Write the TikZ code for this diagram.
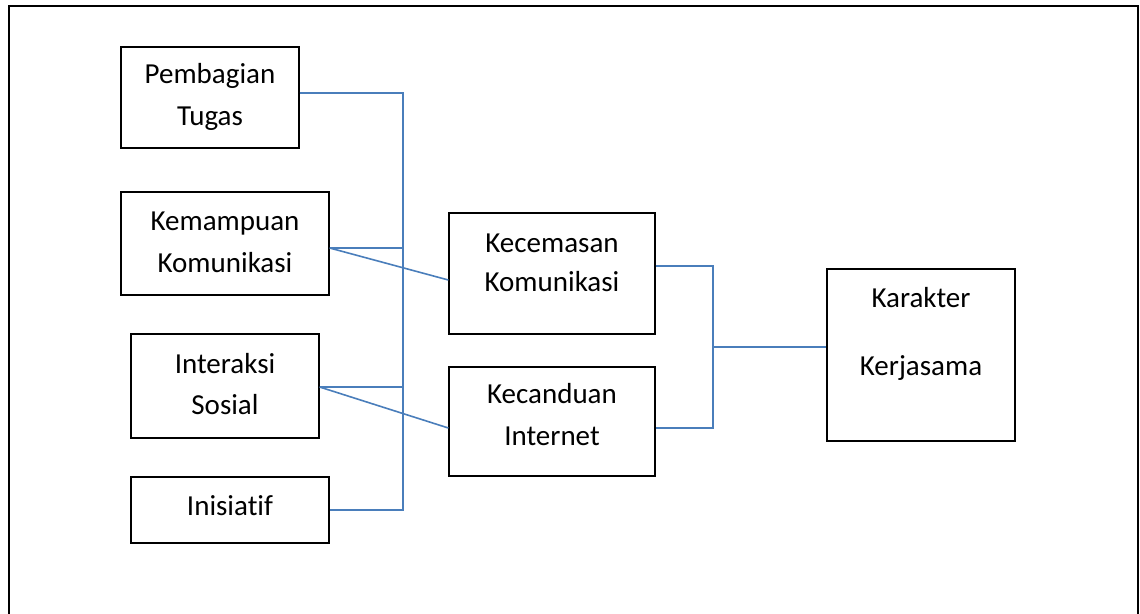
\documentclass[tikz,border=0pt]{standalone}
\usepackage{fontspec}
\setmainfont{Carlito}[Ligatures=NoCommon]
\definecolor{linkblue}{HTML}{4A7EBB}
\begin{document}
\begin{tikzpicture}[x=1pt,y=-1pt,
  box/.style={draw=black,line width=1.3pt,inner sep=0pt},
  lbl/.style={anchor=base,inner sep=0pt,font=\fontsize{29pt}{35pt}\selectfont},
  link/.style={draw=linkblue,line width=1.6pt}]
\useasboundingbox (0,0) rectangle (1140,613);
\draw[line width=1.3pt] (9,630) -- (9,6) -- (1138,6) -- (1138,630);
% boxes
\node[box,minimum width=178pt,minimum height=101pt] (pt) at (210,97.5) {};
\node[box,minimum width=208pt,minimum height=103pt] (km) at (225,243.5) {};
\node[box,minimum width=188pt,minimum height=104pt] (is) at (225,386) {};
\node[box,minimum width=198pt,minimum height=66pt] (in) at (230,510) {};
\node[box,minimum width=206pt,minimum height=121pt] (kc) at (552,273.5) {};
\node[box,minimum width=206pt,minimum height=109pt] (ki) at (552,421.5) {};
\node[box,minimum width=188pt,minimum height=172pt] (kk) at (921,355) {};
% labels
\node[lbl] (pt1) at (210,83) {Pembagian};
\node[lbl] (pt2) at (210,125) {Tugas};
\node[lbl] (km1) at (225,230) {Kemampuan};
\node[lbl] (km2) at (225,272) {Komunikasi};
\node[lbl] (is1) at (225,373) {Interaksi};
\node[lbl] (is2) at (225,414) {Sosial};
\node[lbl] (in1) at (230,515) {Inisiatif};
\node[lbl] (kc1) at (552,252) {Kecemasan};
\node[lbl] (kc2) at (552,291) {Komunikasi};
\node[lbl] (ki1) at (552,403) {Kecanduan};
\node[lbl] (ki2) at (552,445) {Internet};
\node[lbl] (kk1) at (921,307) {Karakter};
\node[lbl] (kk2) at (921,375) {Kerjasama};
% bus coordinates
\coordinate (bt) at (403,93);
\coordinate (bb) at (403,510);
\coordinate (rt) at (713,266);
\coordinate (rb) at (713,428);
\coordinate (rm) at (713,347);
% left connectors
\draw[link] ([yshift=4.5pt]pt.east) -- (bt) -- (bb) -- (in.east);
\draw[link] ([yshift=-4.5pt]km.east) -- ([yshift=-4.5pt]km.east -| bt);
\draw[link] ([yshift=-1pt]is.east) -- ([yshift=-1pt]is.east -| bt);
\draw[link] ([yshift=-4.5pt]km.east) -- ([yshift=-6.5pt]kc.west);
\draw[link] ([yshift=-1pt]is.east) -- ([yshift=-6.5pt]ki.west);
% right connectors
\draw[link] ([yshift=7.5pt]kc.east) -- (rt) -- (rb) -- ([yshift=-6.5pt]ki.east);
\draw[link] (rm) -- ([yshift=8pt]kk.west);
\end{tikzpicture}
\end{document}
